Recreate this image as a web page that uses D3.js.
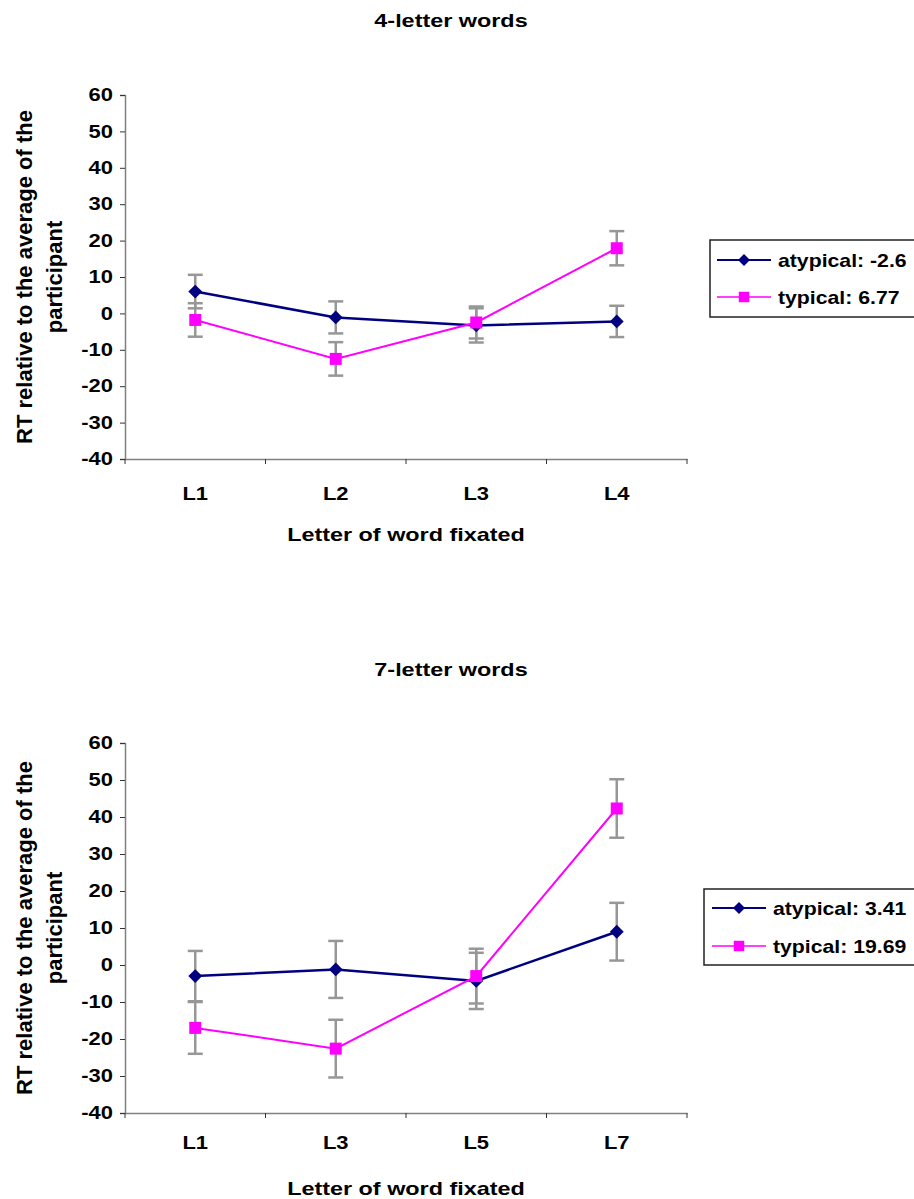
<!DOCTYPE html>
<html>
<head>
<meta charset="utf-8">
<script src="https://cdn.jsdelivr.net/npm/d3@7"></script>
<style>
  html, body { margin: 0; padding: 0; background: #fff; }
  svg { display: block; }
  text { font-family: "Liberation Sans", Arial, sans-serif; font-weight: bold; fill: #000; }
</style>
</head>
<body>
<svg id="chart" width="914" height="1199"></svg>
<script>
// ---------- data ----------
const categories4 = ["L1", "L2", "L3", "L4"];
const atypical4 = [6.0, -1.1, -3.3, -2.2];
const atypical4Err = [4.6, 4.4, 4.7, 4.3];
const typical4 = [-1.8, -12.5, -2.5, 17.9];
const typical4Err = [4.6, 4.6, 4.4, 4.7];

const categories7 = ["L1", "L3", "L5", "L7"];
const atypical7 = [-3.0, -1.2, -4.3, 9.0];
const atypical7Err = [6.8, 7.7, 7.6, 7.8];
const typical7 = [-17.0, -22.6, -3.0, 42.3];
const typical7Err = [7.0, 7.8, 7.4, 7.9];

const yTicks = [60, 50, 40, 30, 20, 10, 0, -10, -20, -30, -40];
const yDomain = [-40, 60];
const titles = ["4-letter words", "7-letter words"];
const legend4 = ["atypical: -2.6", "typical: 6.77"];
const legend7 = ["atypical: 3.41", "typical: 19.69"];
const xTitle = "Letter of word fixated";
const yTitle = ["RT relative to the average of the", "participant"];

// ---------- styles ----------
const NAVY = "#000080", MAGENTA = "#ff00ff", ERR = "#979797", AXIS = "#808080";
const FS = 18;

const svg = d3.select("#chart");
svg.append("rect").attr("width", 914).attr("height", 1199).attr("fill", "#fff");

function sText(g, x, y, str, sx, anchor, size) {
  return g.append("text")
    .attr("transform", `translate(${x},${y}) scale(${sx},1)`)
    .attr("text-anchor", anchor || "middle")
    .style("font-size", (size || FS) + "px")
    .text(str);
}

function panel(cfg) {
  const g = svg.append("g");
  const x = d3.scaleBand().domain(cfg.cats).range([125, 687]).padding(0);
  const y = d3.scaleLinear().domain(yDomain).range([cfg.bottom, cfg.top]);
  const cx = c => x(c) + x.bandwidth() / 2;

  // title
  sText(g, 451, cfg.titleY, cfg.title, 1.3, "middle");

  // y axis
  const ya = g.append("g").attr("transform", "translate(125,0)")
    .call(d3.axisLeft(y).tickValues(yTicks).tickSize(5).tickPadding(7).tickFormat(d => String(d)));
  ya.attr("font-family", null).attr("font-size", null);
  ya.select(".domain").attr("stroke", AXIS).attr("stroke-width", 1.5);
  ya.selectAll(".tick line").attr("stroke", "#333");
  ya.selectAll("text").each(function () {
    const t = d3.select(this);
    const sx = 1.22;
    t.attr("x", (+t.attr("x")) / sx).attr("transform", `scale(${sx},1)`)
      .style("font-size", FS + "px");
  });

  // x axis (labels at band centres)
  const xa = g.append("g").attr("transform", `translate(0,${cfg.bottom})`)
    .call(d3.axisBottom(x).tickSize(0).tickPadding(0));
  xa.attr("font-family", null).attr("font-size", null);
  xa.select(".domain").attr("stroke", AXIS).attr("stroke-width", 1.5);
  xa.selectAll("text").attr("dy", null).attr("y", cfg.labelDy)
    .attr("transform", "scale(1.22,1)").style("font-size", FS + "px");
  // category boundary ticks
  const bounds = cfg.cats.map(c => x(c)).concat([x.range()[1]]);
  xa.selectAll(".btick").data(bounds).enter().append("line")
    .attr("x1", d => d).attr("x2", d => d).attr("y1", 0).attr("y2", 5)
    .attr("stroke", "#333").attr("stroke-width", 1);

  // axis titles
  sText(g, 406, cfg.xTitleY, xTitle, 1.3, "middle");
  const my = (cfg.top + cfg.bottom) / 2;
  g.append("text").attr("transform", `translate(32,${my}) rotate(-90)`)
    .attr("text-anchor", "middle").style("font-size", "22px").text(yTitle[0]);
  g.append("text").attr("transform", `translate(62,${my}) rotate(-90)`)
    .attr("text-anchor", "middle").style("font-size", "22px").text(yTitle[1]);

  const series = [
    { vals: cfg.atyp, errs: cfg.atypErr, color: NAVY, shape: "diamond", width: 2.5 },
    { vals: cfg.typ, errs: cfg.typErr, color: MAGENTA, shape: "square", width: 2 }
  ];

  // error bars
  series.forEach(s => {
    const eg = g.append("g");
    cfg.cats.forEach((c, i) => {
      const v = s.vals[i], e = s.errs[i];
      eg.append("line").attr("x1", cx(c)).attr("x2", cx(c))
        .attr("y1", y(v + e)).attr("y2", y(v - e)).attr("stroke", ERR).attr("stroke-width", 2.5);
      [v + e, v - e].forEach(w => {
        eg.append("line").attr("x1", cx(c) - 7.5).attr("x2", cx(c) + 7.5)
          .attr("y1", y(w)).attr("y2", y(w)).attr("stroke", ERR).attr("stroke-width", 2.5);
      });
    });
  });

  // lines + markers
  series.forEach(s => {
    const line = d3.line().x((d, i) => cx(cfg.cats[i])).y(d => y(d));
    g.append("path").datum(s.vals).attr("d", line).attr("fill", "none")
      .attr("stroke", s.color).attr("stroke-width", s.width);
    g.selectAll(null).data(s.vals).enter().append("path")
      .attr("d", s.shape === "diamond" ? d3.symbol(d3.symbolSquare, 96)() : d3.symbol(d3.symbolSquare, 144)())
      .attr("transform", (d, i) => `translate(${cx(cfg.cats[i])},${y(d)})` + (s.shape === "diamond" ? " rotate(45)" : ""))
      .attr("fill", s.color);
  });

  // legend
  const L = cfg.legend;
  const lg = g.append("g");
  lg.append("rect").attr("x", L.x).attr("y", L.y).attr("width", 240).attr("height", L.h)
    .attr("fill", "#fff").attr("stroke", "#222").attr("stroke-width", 1.5);
  series.forEach((s, i) => {
    const yy = L.rows[i];
    lg.append("line").attr("x1", L.lx1).attr("x2", L.lx2).attr("y1", yy).attr("y2", yy)
      .attr("stroke", s.color).attr("stroke-width", s.width - 0.5);
    lg.append("path")
      .attr("d", s.shape === "diamond" ? d3.symbol(d3.symbolSquare, 72)() : d3.symbol(d3.symbolSquare, 110)())
      .attr("transform", `translate(${(L.lx1 + L.lx2) / 2},${yy})` + (s.shape === "diamond" ? " rotate(45)" : ""))
      .attr("fill", s.color);
    sText(lg, L.tx, yy + 6.5, cfg.legendText[i], 1.18, "start");
  });
}

panel({
  title: titles[0], titleY: 27, top: 95, bottom: 459, labelDy: 41, xTitleY: 541,
  cats: categories4, atyp: atypical4, atypErr: atypical4Err, typ: typical4, typErr: typical4Err,
  legendText: legend4,
  legend: { x: 710, y: 240, h: 77, rows: [260, 297], lx1: 717, lx2: 771, tx: 778 }
});

panel({
  title: titles[1], titleY: 676, top: 743, bottom: 1113, labelDy: 36, xTitleY: 1195,
  cats: categories7, atyp: atypical7, atypErr: atypical7Err, typ: typical7, typErr: typical7Err,
  legendText: legend7,
  legend: { x: 704, y: 889, h: 76, rows: [908, 946], lx1: 712, lx2: 766, tx: 773 }
});
</script>
</body>
</html>
